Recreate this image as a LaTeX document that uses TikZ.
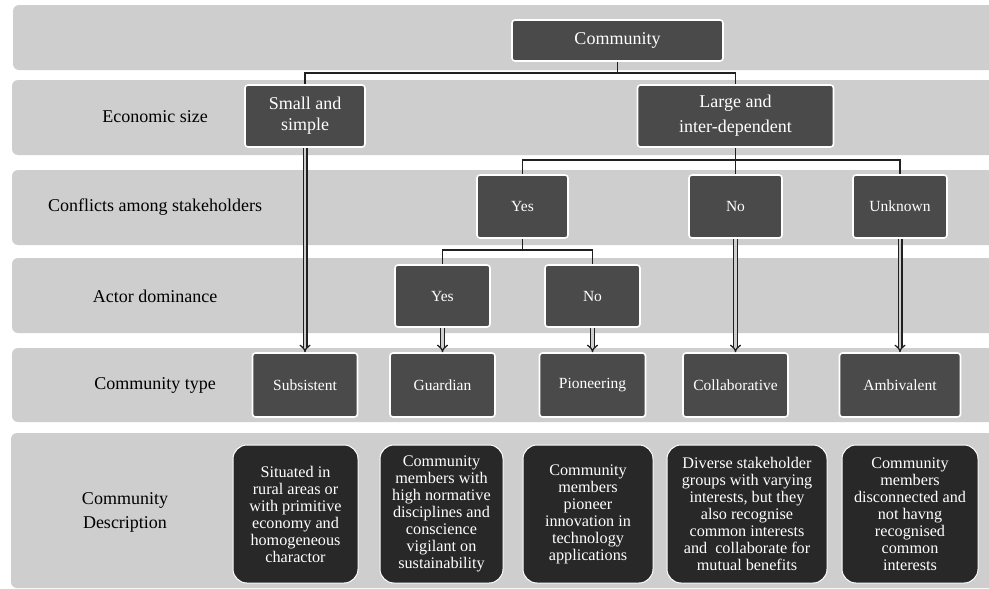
\documentclass[tikz,border=0pt]{standalone}
\usepackage{fontspec}
\setmainfont{Liberation Serif}
\usetikzlibrary{arrows.meta}
\definecolor{bandgray}{RGB}{206,206,206}
\definecolor{boxgray}{RGB}{74,74,74}
\definecolor{descgray}{RGB}{40,40,40}
\definecolor{linegray}{RGB}{32,32,32}

\begin{document}
\begin{tikzpicture}[x=1pt, y=-1pt,
  band/.style={fill=bandgray, rounded corners=6pt},
  sz/.style 2 args={minimum width=#1pt, minimum height=#2pt},
  box/.style={draw=white, line width=1.6pt, fill=boxgray, rounded corners=3pt,
    text=white, inner sep=0pt, align=center},
  bigtext/.style={font=\fontsize{18}{23}\selectfont},
  midtext/.style={font=\fontsize{15.5}{18}\selectfont},
  descbox/.style={draw=white, line width=1pt, fill=descgray, rounded corners=14pt,
    text=white, inner sep=0pt, align=center, font=\fontsize{16.2}{17}\selectfont},
  rowlabel/.style={font=\fontsize{18}{24}\selectfont, align=center},
  tree/.style={draw=linegray, line width=1.8pt},
  pass/.style={draw=linegray, line width=1.3pt, double=bandgray, double distance=2.4pt,
    -{Implies[length=5pt]}}]

% page and bounding box
\fill[white] (0,0) rectangle (989,589);
\useasboundingbox (0,0) rectangle (989,589);

% horizontal bands, one per level
\fill[band] (13,5)   rectangle (1000,70);
\fill[band] (12,80)  rectangle (1000,155);
\fill[band] (12,170) rectangle (1000,245);
\fill[band] (12,258) rectangle (1000,333);
\fill[band] (12,348) rectangle (1000,422);
\fill[band] (11,433) rectangle (1000,588);

% level labels
\node[rowlabel] (lecon) at (155,117) {Economic size};
\node[rowlabel] (lconf) at (155,207) {Conflicts among stakeholders};
\node[rowlabel] (lactor) at (155,296) {Actor dominance};
\node[rowlabel] (ltype) at (155,385) {Community type};
\node[rowlabel] (ldesc) at (125,512) {Community\\Description};

% decision nodes
\node[box, bigtext, sz={211}{41}] (comm) at (617.5,40.5) {Community};
\node[box, font=\fontsize{18}{21}\selectfont, sz={120}{62}] (small) at (305,116) {Small and\\simple};
\node[box, font=\fontsize{18}{25}\selectfont, sz={196}{62}] (large) at (735.5,116) {Large and\\inter-dependent};

\node[box, midtext, sz={91}{63}] (cyes) at (522.5,206.5) {Yes};
\node[box, midtext, sz={93}{63}] (cno)  at (735.5,206.5) {No};
\node[box, midtext, sz={94}{63}] (cunk) at (900,206.5) {Unknown};

\node[box, midtext, sz={95}{62}] (ayes) at (442.5,296) {Yes};
\node[box, midtext, sz={95}{62}] (ano)  at (592.5,296) {No};

% community types
\node[box, midtext, sz={105}{64}] (subs)  at (305,385)   {Subsistent};
\node[box, midtext, sz={105}{64}] (guard) at (442.5,385) {Guardian};
\node[box, midtext, sz={106}{64}] (pion)  at (592.5,385) {Pioneering};
\node[box, midtext, sz={105}{64}] (coll)  at (735.5,385) {Collaborative};
\node[box, midtext, sz={121}{64}] (amb)   at (900,385)   {Ambivalent};

% descriptions
\node[descbox, sz={125}{138}] (d1) at (295.5,514) {Situated in\\rural areas or\\with primitive\\economy and\\homogeneous\\charactor};
\node[descbox, sz={123}{138}] (d2) at (441.5,514) {Community\\members with\\high normative\\disciplines and\\conscience\\vigilant on\\sustainability};
\node[descbox, sz={130}{138}] (d3) at (588,514) {Community\\members\\pioneer\\innovation in\\technology\\applications};
\node[descbox, sz={160}{138}] (d4) at (747,514) {Diverse stakeholder\\groups with varying\\interests, but they\\also recognise\\common interests\\and~ collaborate for\\mutual benefits};
\node[descbox, sz={136}{138}] (d5) at (910,514) {Community\\members\\disconnected and\\not havng\\recognised\\common\\interests};

% branching lines
\coordinate (j1) at (617.5,73);
\coordinate (j2) at (735.5,160);
\coordinate (j3) at (522.5,250);
\draw[tree] (comm.south) -- (j1);
\draw[tree] (j1) -| (small.north);
\draw[tree] (j1) -| (large.north);
\draw[tree] (large.south) -- (j2);
\draw[tree] (j2) -| (cyes.north);
\draw[tree] (j2) -- (cno.north);
\draw[tree] (j2) -| (cunk.north);
\draw[tree] (cyes.south) -- (j3);
\draw[tree] (j3) -| (ayes.north);
\draw[tree] (j3) -| (ano.north);

% leading to community types
\draw[pass] (small.south) -- (subs.north);
\draw[pass] (ayes.south) -- (guard.north);
\draw[pass] (ano.south) -- (pion.north);
\draw[pass] (cno.south) -- (coll.north);
\draw[pass] (cunk.south) -- (amb.north);
\end{tikzpicture}
\end{document}
